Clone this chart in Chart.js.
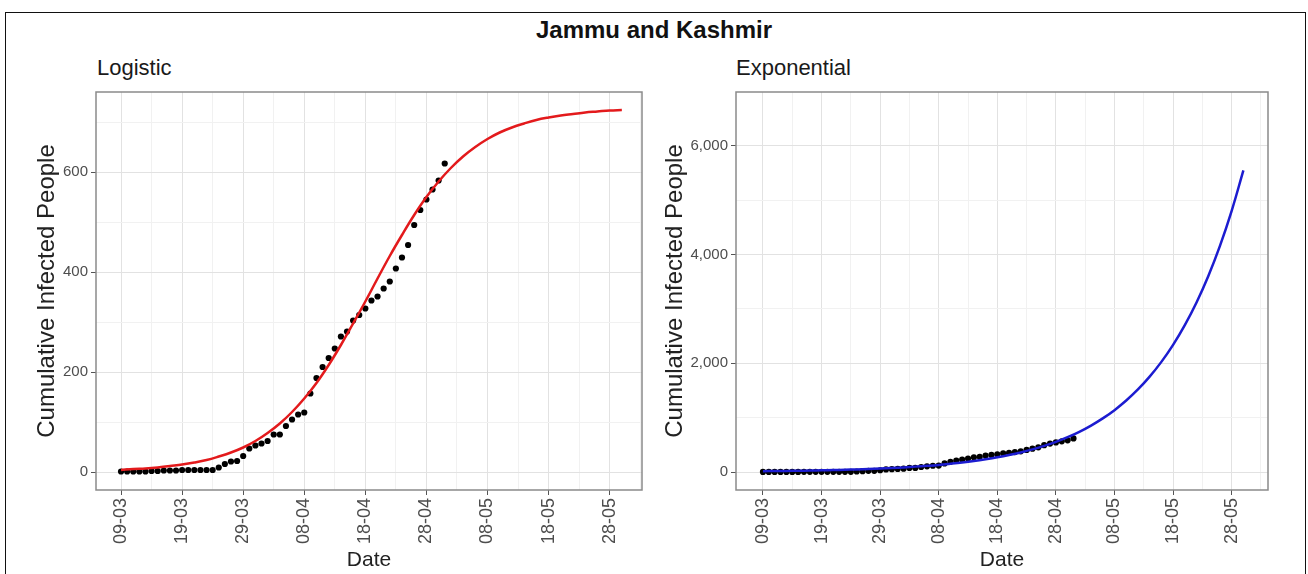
<!DOCTYPE html>
<html lang="en">
<head>
  <meta charset="UTF-8">
  <title>Jammu and Kashmir</title>
  <script src="https://cdn.jsdelivr.net/npm/chart.js"></script>
  <style>
    body { margin: 0; background: #fff; font-family: "Liberation Sans", Arial, sans-serif; }
    #page { position: relative; width: 1308px; height: 574px; overflow: hidden; }
    #frame { position: absolute; left: 5px; top: 12px; width: 1301px; height: 620px; border: 1.5px solid #111; box-sizing: border-box; }
    .main-title { position: absolute; left: 0; width: 1308px; top: 18px; line-height: 24px; text-align: center; font-size: 24px; font-weight: bold; color: #111; }
    .sub-title { position: absolute; top: 57px; line-height: 22px; font-size: 22px; color: #1a1a1a; }
    .box { position: absolute; top: 0; width: 654px; height: 574px; }
  </style>
</head>
<body>
  <div id="page">
    <div id="frame"></div>
    <div class="main-title">Jammu and Kashmir</div>
    <div class="sub-title" style="left:97px">Logistic</div>
    <div class="sub-title" style="left:736px">Exponential</div>
    <div class="box" style="left:0"><canvas id="logisticChart" width="654" height="574"></canvas></div>
    <div class="box" style="left:654px"><canvas id="expChart" width="654" height="574"></canvas></div>
  </div>
  <script>
    // day 0 = 09-03; observed cumulative cases, one value per day
    const observedCases = [1, 1, 1, 1, 1, 2, 2, 3, 3, 3, 4, 4, 4, 4, 4, 4,
      9, 16, 21, 22, 32, 47, 53, 57, 62, 75, 75, 92, 105, 115, 119, 157, 188, 210, 228, 247,
      271, 281, 303, 314, 327, 343, 351, 367, 381, 407, 429, 454, 494, 524, 545, 565, 583, 617];

    // fitted curves, sampled every 2 days
    const fitDays = [0, 2, 4, 6, 8, 10, 12, 14, 16, 18, 20, 22, 24, 26, 28, 30, 32, 34, 36, 38, 40,
      42, 44, 46, 48, 50, 52, 54, 56, 58, 60, 62, 64, 66, 68, 70, 72, 74, 76, 78, 80, 82];
    const logisticFit = [4, 6, 7, 9, 12, 15, 19, 24, 31, 39, 49, 62, 78, 97, 120, 147, 178, 214, 254, 297, 341,
      387, 432, 474, 514, 550, 581, 608, 631, 650, 666, 679, 689, 697, 704, 709, 713, 716, 719, 721, 723, 724];
    const exponentialFit = [15, 18, 20, 23, 27, 31, 36, 42, 48, 55, 64, 74, 85, 99, 114, 131, 152, 175, 202, 234, 270,
      312, 360, 416, 480, 554, 640, 739, 854, 986, 1138, 1315, 1518, 1754, 2026, 2339, 2702, 3120, 3603, 4161, 4806, 5550];

    const xMajorDays = [0, 10, 20, 30, 40, 50, 60, 70, 80];
    const xMinorDays = [5, 15, 25, 35, 45, 55, 65, 75, 85];
    const xTickLabels = ['09-03', '19-03', '29-03', '08-04', '18-04', '28-04', '08-05', '18-05', '28-05'];

    const logisticYMajor = [0, 200, 400, 600];
    const logisticYMinor = [100, 300, 500, 700];
    const expYMajor = [0, 2000, 4000, 6000];
    const expYMinor = [1000, 3000, 5000];

    const toPoints = (xs, ys) => ys.map((y, i) => ({ x: xs[i], y: y }));
    const observedPoints = observedCases.map((y, d) => ({ x: d, y: y }));

    // ggplot-style panel border drawn over the plotted data
    const panelBorder = {
      id: 'panelBorder',
      afterDatasetsDraw(chart) {
        const { ctx, chartArea: a } = chart;
        ctx.save();
        ctx.strokeStyle = '#8a8a8a';
        ctx.lineWidth = 1.5;
        ctx.strokeRect(a.left, a.top, a.right - a.left, a.bottom - a.top);
        ctx.restore();
      }
    };

    function gridStyle(major) {
      const isMajor = ctx => ctx.tick && major.includes(ctx.tick.value);
      return {
        color: ctx => isMajor(ctx) ? '#e2e2e2' : '#f1f1f1',
        tickColor: ctx => isMajor(ctx) ? '#555' : 'rgba(0,0,0,0)',
        lineWidth: 1,
        tickLength: 5,
        drawTicks: true
      };
    }

    function makeChart(id, opts) {
      return new Chart(document.getElementById(id), {
        type: 'scatter',
        data: {
          datasets: [
            {
              data: opts.fit, showLine: true, borderColor: opts.lineColor, borderWidth: 2.5,
              pointRadius: 0, tension: 0.4, order: 0
            },
            {
              data: observedPoints, showLine: false, backgroundColor: '#000', borderWidth: 0,
              pointRadius: opts.pointRadius, order: 1
            }
          ]
        },
        plugins: [panelBorder],
        options: {
          responsive: false,
          animation: false,
          events: [],
          layout: { padding: { left: opts.padLeft, right: opts.padRight, top: 92, bottom: 0 } },
          plugins: { legend: { display: false }, tooltip: { enabled: false } },
          scales: {
            x: {
              type: 'linear',
              min: opts.xMin, max: opts.xMax,
              afterBuildTicks: s => { s.ticks = xMajorDays.concat(xMinorDays).sort((a, b) => a - b).map(v => ({ value: v })); },
              afterFit: s => { s.height = 84; s.paddingLeft = 0; s.paddingRight = 0; },
              grid: gridStyle(xMajorDays),
              border: { display: false },
              ticks: {
                autoSkip: false, minRotation: 90, maxRotation: 90, padding: 3,
                color: '#4d4d4d', font: { size: 18 },
                callback: v => { const i = xMajorDays.indexOf(v); return i >= 0 ? xTickLabels[i] : ''; }
              },
              title: { display: true, text: 'Date', color: '#222', font: { size: 21 }, padding: { top: 0, bottom: 1 } }
            },
            y: {
              min: opts.yMin, max: opts.yMax,
              afterBuildTicks: s => { s.ticks = opts.yMajor.concat(opts.yMinor).sort((a, b) => a - b).map(v => ({ value: v })); },
              afterFit: s => { s.width = opts.yWidth; s.paddingTop = 0; s.paddingBottom = 0; },
              grid: gridStyle(opts.yMajor),
              border: { display: false },
              ticks: {
                autoSkip: false, padding: 3, color: '#4d4d4d', font: { size: 15 },
                callback: v => opts.yMajor.includes(v) ? v.toLocaleString('en-US') : ''
              },
              title: { display: true, text: 'Cumulative Infected People', color: '#222', font: { size: 24 }, padding: { top: 4, bottom: 0 } }
            }
          }
        }
      });
    }

    makeChart('logisticChart', {
      fit: toPoints(fitDays, logisticFit), lineColor: '#e31a1c', pointRadius: 3.1,
      xMin: -4.1, xMax: 85.3, yMin: -36, yMax: 760,
      yMajor: logisticYMajor, yMinor: logisticYMinor,
      padLeft: 29, padRight: 12, yWidth: 67
    });

    makeChart('expChart', {
      fit: toPoints(fitDays, exponentialFit), lineColor: '#1c1cd0', pointRadius: 3.1,
      xMin: -4.6, xMax: 86.2, yMin: -331, yMax: 6991,
      yMajor: expYMajor, yMinor: expYMinor,
      padLeft: 3, padRight: 40, yWidth: 79
    });
  </script>
</body>
</html>
